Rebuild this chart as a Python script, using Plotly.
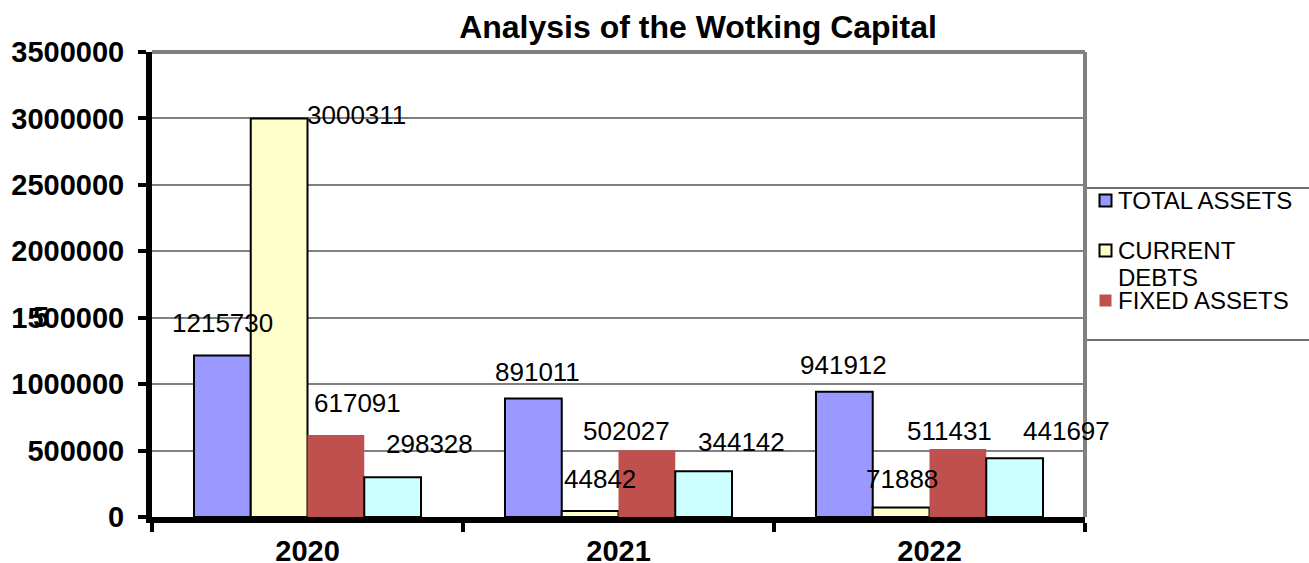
import plotly.graph_objects as go

# ---- data ----
years = ["2020", "2021", "2022"]
total_assets = [1215730, 891011, 941912]
current_debts = [3000311, 44842, 71888]
fixed_assets = [617091, 502027, 511431]
working_capital = [298328, 344142, 441697]

series_names = ["TOTAL ASSETS", "CURRENT DEBTS", "FIXED ASSETS", "WORKING CAPITAL"]
series_values = [total_assets, current_debts, fixed_assets, working_capital]
legend_labels = [["TOTAL ASSETS"], ["CURRENT", "DEBTS"], ["FIXED ASSETS"]]
y_ticks = [0, 500000, 1000000, 1500000, 2000000, 2500000, 3000000, 3500000]

# ---- styles ----
colors = ["#9999FF", "#FFFFCC", "#C0504D", "#CCFFFF"]
outline_w = [2, 2, 0, 2]
FONT = "Liberation Sans, Arial, sans-serif"

W, H = 1309, 563
ML, MR, MT, MB = 152, 224, 52, 46
PW = W - ML - MR
PH = H - MT - MB
BARGAP = 0.27
bar_px = PW / len(years) * (1 - BARGAP) / len(series_names)

# label offsets (px) relative to the top-centre of each bar, [series][year]
label_dx = [[0, 4, -1], [77, 10, 1], [22, -20, -8], [37, 38, 52]]
label_dy = [[-32, -27, -27], [-3, -32, -28], [-32, -19, -18], [-33, -29, -27]]

fig = go.Figure()
for i, (name, vals) in enumerate(zip(series_names, series_values)):
    fig.add_trace(go.Bar(
        x=years, y=vals, name=name,
        marker=dict(color=colors[i], line=dict(color="black", width=outline_w[i])),
        showlegend=False,
    ))

annotations = []
for i, vals in enumerate(series_values):
    for j, v in enumerate(vals):
        annotations.append(dict(
            x=j, y=v, xref="x", yref="y", text=str(v), showarrow=False,
            xshift=(i - (len(series_names) - 1) / 2) * bar_px + label_dx[i][j],
            yshift=-label_dy[i][j],
            xanchor="center", yanchor="middle",
            font=dict(family=FONT, size=26, color="black"),
        ))

# stray "5" glyph overlapping the 1500000 tick label
annotations.append(dict(
    x=(41 - ML) / PW, xref="paper", y=1500000, yref="y", yshift=1,
    text="5", showarrow=False, xanchor="center", yanchor="middle",
    font=dict(family=FONT, size=29, color="black", weight="bold"),
))

# manual legend (clipped box at right)
shapes = []
leg_top = 188
leg_bottom = 340
shapes.append(dict(type="rect", xref="paper", yref="paper",
                   x0=(1086 - ML) / PW, x1=(1320 - ML) / PW,
                   y0=(H - MB - leg_bottom) / PH, y1=(H - MB - leg_top) / PH,
                   line=dict(color="#404040", width=1.5), fillcolor="white", layer="below"))
first_y = 200.5
pitch = 50
line_gap = 26.5
for k, lines in enumerate(legend_labels):
    cy = first_y + k * pitch
    shapes.append(dict(type="rect", xref="paper", yref="paper",
                       x0=(1099.5 - ML) / PW, x1=(1111.5 - ML) / PW,
                       y0=(H - MB - (cy + 6)) / PH, y1=(H - MB - (cy - 6)) / PH,
                       fillcolor=colors[k],
                       line=dict(color="black", width=outline_w[k])))
    for li, txt in enumerate(lines):
        annotations.append(dict(
            x=(1116 - ML) / PW, xref="paper",
            y=(H - MB - (cy + li * line_gap)) / PH, yref="paper",
            text=txt, showarrow=False, xanchor="left", yanchor="middle", align="left",
            font=dict(family=FONT, size=24, color="black"),
        ))

# gray plot-area frame on top and right
shapes.append(dict(type="line", xref="paper", yref="paper", x0=0, x1=1, y0=1, y1=1,
                   line=dict(color="#808080", width=4)))
shapes.append(dict(type="line", xref="paper", yref="paper", x0=1, x1=1, y0=0, y1=1,
                   line=dict(color="#808080", width=4)))

fig.update_layout(
    width=W, height=H,
    margin=dict(l=ML, r=MR, t=MT, b=MB, autoexpand=False),
    paper_bgcolor="white", plot_bgcolor="white",
    barmode="group", bargap=BARGAP, bargroupgap=0,
    showlegend=False,
    title=dict(text="Analysis of the Wotking Capital", x=(698 - ML) / PW, xref="paper",
               xanchor="center", y=1 - 27 / H, yref="container", yanchor="middle",
               font=dict(family=FONT, size=32, color="black", weight="bold")),
    xaxis=dict(type="category", range=[-0.5, 2.5], autorange=False,
               showline=True, linecolor="black", linewidth=6,
               ticks="outside", ticklen=9, tickwidth=4, tickcolor="black",
               tickson="boundaries", showgrid=False, tickangle=0, automargin=False,
               ticklabelstandoff=3,
               tickfont=dict(family=FONT, size=29, color="black", weight="bold")),
    yaxis=dict(range=[0, 3500000], autorange=False, tickvals=y_ticks,
               ticktext=[str(t) for t in y_ticks], automargin=False,
               showline=True, linecolor="black", linewidth=6,
               ticks="outside", ticklen=8, tickwidth=4, tickcolor="black",
               ticklabelstandoff=8,
               showgrid=True, gridcolor="#808080", gridwidth=1.5, zeroline=False,
               tickfont=dict(family=FONT, size=29, color="black", weight="bold")),
    annotations=annotations,
    shapes=shapes,
)

fig.write_html("out.html", config={"displayModeBar": False},
               post_script="document.body.style.margin='0';")
